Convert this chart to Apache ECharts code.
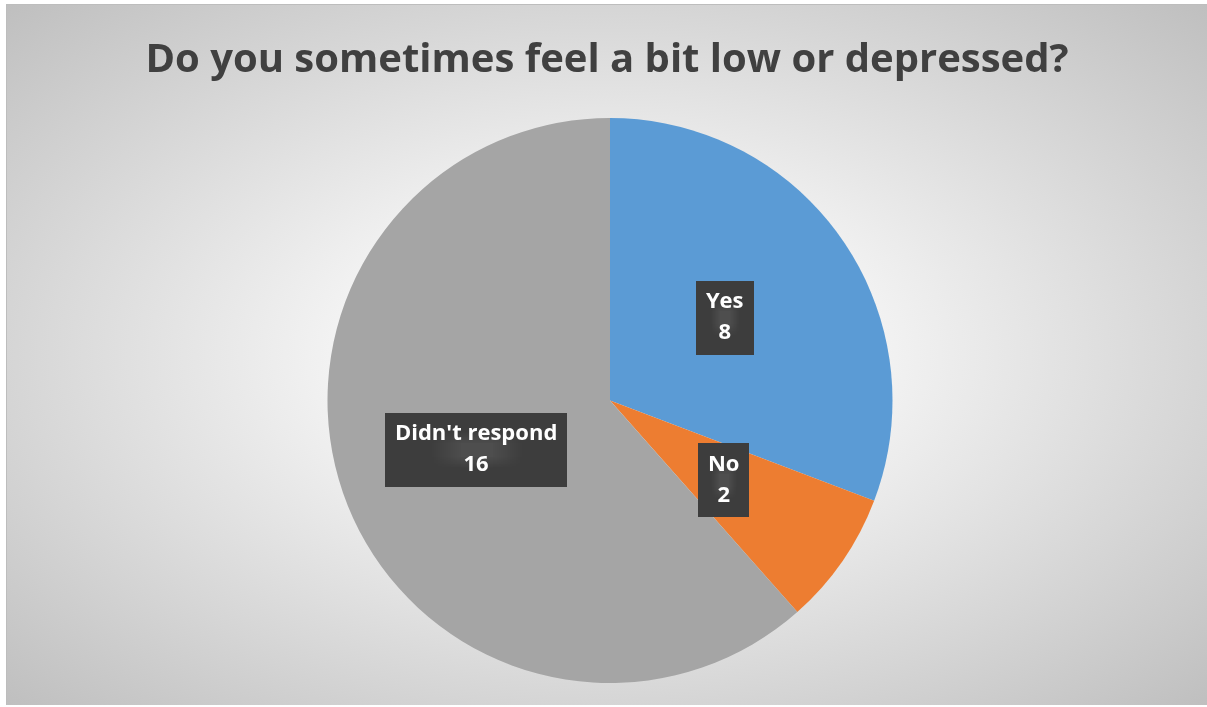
<!DOCTYPE html>
<html>
<head>
<meta charset="utf-8">
<script src="https://cdn.jsdelivr.net/npm/echarts@6/dist/echarts.min.js"></script>
<style>
  html, body { margin: 0; padding: 0; background: #ffffff; width: 1207px; height: 707px; overflow: hidden; }
  #chart {
    position: absolute; left: 6px; top: 4px; width: 1201px; height: 701px;
    box-sizing: border-box; border-left: 1px solid #bdbdbd; border-top: 1px solid #bdbdbd;
    background: radial-gradient(ellipse farthest-corner at 50% 50%, #ffffff 0%, #f4f4f4 30%, #bfbfbf 100%);
  }
</style>
</head>
<body>
<div id="chart"></div>
<script>
const titleText = 'Do you sometimes feel a bit low or depressed?';
const categories = ['Yes', 'No', "Didn't respond"];
const values = [8, 2, 16];
const colors = ['#5B9BD5', '#ED7D31', '#A5A5A5'];
const labelOffsets = [[-4, -1], [-5, -2], [1, -2]];

function makePattern() {
  const c = document.createElement('canvas');
  c.width = 6; c.height = 6;
  const g = c.getContext('2d');
  g.fillStyle = '#3d3d3d';
  g.fillRect(0, 0, 6, 6);
  g.fillStyle = '#4e4e4e';
  g.fillRect(2, 2, 2, 2);
  return c;
}
const pattern = makePattern();

const chart = echarts.init(document.getElementById('chart'), null, { renderer: 'canvas' });
const data = categories.map((name, i) => ({
  name: name,
  value: values[i],
  itemStyle: { color: colors[i] },
  label: { offset: labelOffsets[i] }
}));

chart.setOption({
  backgroundColor: 'transparent',
  title: {
    text: titleText,
    left: 'center',
    top: 31,
    textStyle: { fontFamily: 'Open Sans', fontWeight: 'bold', fontSize: 40, color: '#404040' }
  },
  series: [{
    type: 'pie',
    center: [603, 395.5],
    radius: 282.5,
    startAngle: 90,
    clockwise: true,
    animation: false,
    silent: true,
    itemStyle: { borderWidth: 0 },
    label: {
      show: true,
      position: 'inside',
      formatter: '{b}\n{c}',
      fontFamily: 'Open Sans',
      fontWeight: 'bold',
      fontSize: 22,
      lineHeight: 31,
      color: '#ffffff',
      backgroundColor: { image: pattern, repeat: 'repeat' },
      padding: [6, 10, 6, 10],
      shadowColor: 'rgba(0,0,0,0.45)',
      shadowBlur: 5,
      shadowOffsetX: 3,
      shadowOffsetY: 3
    },
    labelLine: { show: false },
    data: data
  }]
});
</script>
</body>
</html>
